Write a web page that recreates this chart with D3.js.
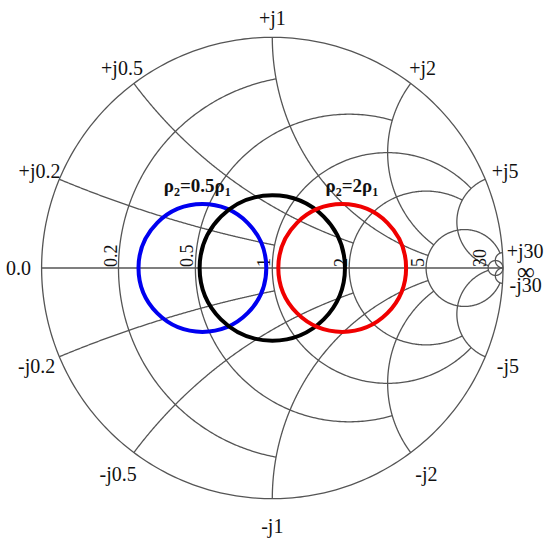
<!DOCTYPE html>
<html>
<head>
<meta charset="utf-8">
<script src="https://cdn.jsdelivr.net/npm/d3@7"></script>
<style>
  html, body { margin: 0; padding: 0; background: #fff; }
  svg { display: block; }
</style>
</head>
<body>
<svg id="chart" width="550" height="541"></svg>
<script>
// ---------- data ----------
const gridValues = [0.2, 0.5, 1, 2, 5, 30];          // constant r / x values
const gridLimits = [1, 2, 5, 5, 30, Infinity];      // each circle drawn until it meets this value
const resistanceLabels = ["0.2", "0.5", "1", "2", "5", "30"];
const reactanceLabelsPos = ["+j0.2", "+j0.5", "+j1", "+j2", "+j5", "+j30"];
const reactanceLabelsNeg = ["-j0.2", "-j0.5", "-j1", "-j2", "-j5", "-j30"];
const endLabels = ["0.0", "\u221E"];

// matching circles (reflection coefficient plane): centre on real axis, radius
const matchNames   = ["rho2_05rho1", "matched", "rho2_2rho1"];
const matchCenters = [-0.303, 0.0, 0.303];
const matchRadii   = [0.277, 0.315, 0.277];
const matchTitles  = [["\u03C1", "2", "=0.5\u03C1", "1"], null, ["\u03C1", "2", "=2\u03C1", "1"]];
const titleGamma   = [[-0.325, 0.33], null, [0.345, 0.33]];

// ---------- layout ----------
const cx = 272.3, cy = 268, R = 230.7;
const colors = { rho2_05rho1: "#0000f0", matched: "#000000", rho2_2rho1: "#f00000" };
const gridColor = "#555";
const serif = "\"Liberation Serif\", \"Times New Roman\", serif";

const svg = d3.select("#chart");
const xs = d3.scaleLinear().domain([-1, 1]).range([cx - R, cx + R]);
const ys = d3.scaleLinear().domain([-1, 1]).range([cy + R, cy - R]);
const line = d3.line().x(d => xs(d[0])).y(d => ys(d[1]));

function gamma(r, x) {
  if (r === Infinity || x === Infinity) return [1, 0];
  const nr = r - 1, ni = x, dr = r + 1, di = x;
  const den = dr * dr + di * di;
  return [(nr * dr + ni * di) / den, (ni * dr - nr * di) / den];
}
const norm = a => (a < 0 ? a + 2 * Math.PI : a);

const gGrid = svg.append("g").attr("fill", "none").attr("stroke", gridColor).attr("stroke-width", 1.3);

// outer circle (r = 0) and real axis
gGrid.append("path").attr("d", line(d3.range(0, 361).map(a => [Math.cos(a * Math.PI / 180), Math.sin(a * Math.PI / 180)])));
gGrid.append("path").attr("d", line([[-1, 0], [1, 0]]));

// constant resistance circles
gridValues.forEach((r, i) => {
  const xm = gridLimits[i];
  const c = r / (1 + r), rho = 1 / (1 + r);
  const g = gamma(r, xm);
  const t1 = xm === Infinity ? 0 : Math.atan2(g[1], g[0] - c);
  const t2 = 2 * Math.PI - t1;
  const pts = d3.range(0, 301).map(k => {
    const t = t1 + (t2 - t1) * k / 300;
    return [c + rho * Math.cos(t), rho * Math.sin(t)];
  });
  gGrid.append("path").attr("d", line(pts));
});

// constant reactance arcs
gridValues.forEach((x, i) => {
  const rm = gridLimits[i];
  const rho = 1 / x;
  const g0 = gamma(0, x), g1 = gamma(rm, x);
  const p0 = norm(Math.atan2(g0[1] - rho, g0[0] - 1));
  let p1 = norm(Math.atan2(g1[1] - rho, g1[0] - 1));
  if (p1 < p0) p1 += 2 * Math.PI;
  const pts = d3.range(0, 301).map(k => {
    const t = p0 + (p1 - p0) * k / 300;
    return [1 + rho * Math.cos(t), rho + rho * Math.sin(t)];
  });
  gGrid.append("path").attr("d", line(pts));
  gGrid.append("path").attr("d", line(pts.map(p => [p[0], -p[1]])));
});

// ---------- labels ----------
const gLab = svg.append("g").attr("font-family", serif).attr("fill", "#111");

function outerLabel(text, gx, gy, size) {
  const len = Math.hypot(gx, gy);
  const dx = gx / len, dy = -gy / len;   // screen direction
  const rr = R + 23 + 4 * dy;
  gLab.append("text")
    .attr("x", cx + rr * dx).attr("y", cy + rr * dy)
    .attr("text-anchor", "middle").attr("dominant-baseline", "central")
    .attr("font-size", size || 20).text(text);
}
gridValues.forEach((x, i) => {
  const g = gamma(0, x);
  outerLabel(reactanceLabelsPos[i], g[0], g[1]);
  outerLabel(reactanceLabelsNeg[i], g[0], -g[1]);
});
outerLabel(endLabels[0], -1, 0);
outerLabel(endLabels[1], 1, -0.012, 25);

// resistance labels (rotated, along the real axis)
gridValues.forEach((r, i) => {
  const px = xs((r - 1) / (r + 1)) - 2;
  const py = cy - 1;
  gLab.append("text")
    .attr("transform", `translate(${px},${py}) rotate(-90)`)
    .attr("text-anchor", "start")
    .attr("font-size", 18).text(resistanceLabels[i]);
});

// ---------- matching circles ----------
const gM = svg.append("g").attr("fill", "none").attr("stroke-width", 4);
matchNames.forEach((n, i) => {
  gM.append("circle")
    .attr("cx", xs(matchCenters[i])).attr("cy", ys(0))
    .attr("r", xs(matchRadii[i]) - xs(0))
    .attr("stroke", colors[n]);
});

// titles
matchTitles.forEach((t, i) => {
  if (!t) return;
  const txt = svg.append("text")
    .attr("x", xs(titleGamma[i][0])).attr("y", ys(titleGamma[i][1]))
    .attr("text-anchor", "middle")
    .attr("font-family", serif).attr("font-weight", "bold").attr("font-size", 19)
    .attr("fill", "#111");
  txt.append("tspan").text(t[0]);
  txt.append("tspan").attr("font-size", 12).attr("dy", 4).text(t[1]);
  txt.append("tspan").attr("dy", -4).text(t[2]);
  txt.append("tspan").attr("font-size", 12).attr("dy", 4).text(t[3]);
});
</script>
</body>
</html>
